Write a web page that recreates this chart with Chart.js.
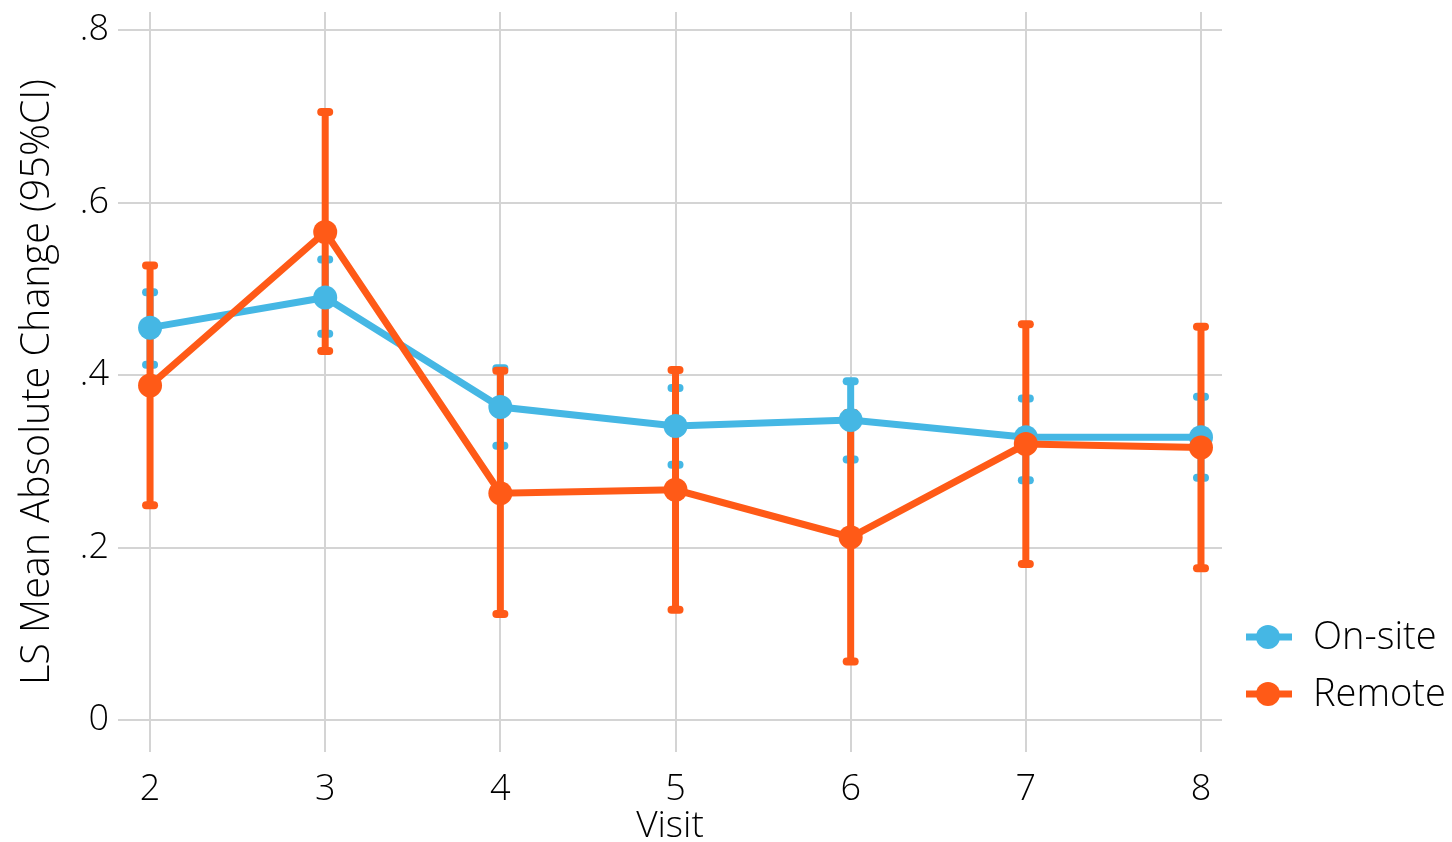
<!DOCTYPE html>
<html>
<head>
<meta charset="utf-8">
<script src="https://cdn.jsdelivr.net/npm/chart.js@4.4.0/dist/chart.umd.min.js"></script>
<style>
  html, body { margin: 0; padding: 0; background: #fff; }
</style>
</head>
<body>
<canvas id="chart" width="1452" height="842"></canvas>
<script>
// values
const visits = [2, 3, 4, 5, 6, 7, 8];
const onsiteMean = [0.455, 0.490, 0.363, 0.341, 0.348, 0.328, 0.328];
const onsiteLow  = [0.412, 0.448, 0.318, 0.296, 0.302, 0.278, 0.281];
const onsiteHigh = [0.496, 0.534, 0.408, 0.385, 0.393, 0.373, 0.375];
const remoteMean = [0.388, 0.566, 0.263, 0.267, 0.212, 0.320, 0.316];
const remoteLow  = [0.249, 0.428, 0.123, 0.128, 0.068, 0.181, 0.176];
const remoteHigh = [0.527, 0.705, 0.405, 0.406, 0.356, 0.459, 0.456];
const yTicks = [0, 0.2, 0.4, 0.6, 0.8];
const yTickLabels = ['0', '.2', '.4', '.6', '.8'];

const BLUE = '#45b7e4';
const ORANGE = '#ff5a17';
const FONT = "'Open Sans', 'Noto Sans', sans-serif";

const toPoints = (ys) => visits.map((v, i) => ({ x: v, y: ys[i] }));

// confidence intervals drawn under the lines
const ciPlugin = {
  id: 'ciBars',
  beforeDatasetsDraw(chart) {
    const { ctx, scales: { x, y } } = chart;
    const groups = [
      { low: onsiteLow, high: onsiteHigh, color: BLUE },
      { low: remoteLow, high: remoteHigh, color: ORANGE }
    ];
    ctx.save();
    groups.forEach(g => {
      ctx.strokeStyle = g.color;
      visits.forEach((v, i) => {
        const px = x.getPixelForValue(v);
        const yl = y.getPixelForValue(g.low[i]);
        const yh = y.getPixelForValue(g.high[i]);
        ctx.lineWidth = 7;
        ctx.lineCap = 'butt';
        ctx.beginPath();
        ctx.moveTo(px, yl);
        ctx.lineTo(px, yh);
        ctx.stroke();
        ctx.lineWidth = 8;
        ctx.lineCap = 'round';
        [yl, yh].forEach(yy => {
          ctx.beginPath();
          ctx.moveTo(px - 4, yy);
          ctx.lineTo(px + 4, yy);
          ctx.stroke();
        });
      });
    });
    ctx.restore();
  }
};

// legend at the lower right: line + marker + label
const legendPlugin = {
  id: 'sideLegend',
  afterDraw(chart) {
    const { ctx } = chart;
    const items = [chart.data.datasets[1], chart.data.datasets[0]];
    ctx.save();
    items.forEach((ds, i) => {
      const cy = 637 + i * 57;
      ctx.strokeStyle = ds.borderColor;
      ctx.lineWidth = 7;
      ctx.beginPath();
      ctx.moveTo(1246, cy);
      ctx.lineTo(1292, cy);
      ctx.stroke();
      ctx.fillStyle = ds.borderColor;
      ctx.beginPath();
      ctx.arc(1268, cy, 12, 0, Math.PI * 2);
      ctx.fill();
      ctx.fillStyle = '#000';
      ctx.font = "300 38px " + FONT;
      ctx.textBaseline = 'middle';
      ctx.textAlign = 'left';
      ctx.fillText(ds.label, 1313, cy + 1);
    });
    ctx.restore();
  }
};

new Chart(document.getElementById('chart').getContext('2d'), {
  type: 'line',
  data: {
    datasets: [
      {
        label: 'Remote',
        data: toPoints(remoteMean),
        borderColor: ORANGE,
        backgroundColor: ORANGE,
        borderWidth: 7,
        pointRadius: 12,
        pointBorderWidth: 0,
        tension: 0
      },
      {
        label: 'On-site',
        data: toPoints(onsiteMean),
        borderColor: BLUE,
        backgroundColor: BLUE,
        borderWidth: 7,
        pointRadius: 12,
        pointBorderWidth: 0,
        tension: 0
      }
    ]
  },
  options: {
    responsive: false,
    animation: false,
    devicePixelRatio: 1,
    layout: { padding: { top: 10, right: 230, left: 0, bottom: 0 } },
    plugins: {
      legend: { display: false },
      tooltip: { enabled: false }
    },
    scales: {
      x: {
        type: 'linear',
        min: 1.817,
        max: 8.12,
        afterBuildTicks: (scale) => { scale.ticks = visits.map(v => ({ value: v })); },
        afterFit: (scale) => { scale.height = 90; },
        grid: { color: '#d4d4d4', lineWidth: 2, drawTicks: false },
        border: { display: false },
        ticks: {
          padding: 16,
          color: '#000',
          font: { family: FONT, size: 36, weight: '300' }
        },
        title: {
          display: true,
          text: 'Visit',
          color: '#000',
          padding: { top: 0, bottom: 0 },
          font: { family: FONT, size: 37, weight: '300', lineHeight: 0.83 }
        }
      },
      y: {
        min: -0.037,
        max: 0.821,
        afterBuildTicks: (scale) => { scale.ticks = yTicks.map(v => ({ value: v })); },
        afterFit: (scale) => { scale.width = 118; scale.paddingTop = 0; scale.paddingBottom = 0; },
        grid: { color: '#d4d4d4', lineWidth: 2, drawTicks: false },
        border: { display: false },
        ticks: {
          padding: 9,
          color: '#000',
          callback: (v, i) => yTickLabels[i],
          font: { family: FONT, size: 36, weight: '300' }
        },
        title: {
          display: true,
          text: 'LS Mean Absolute Change (95%CI)',
          color: '#000',
          padding: { top: 18, bottom: 0 },
          font: { family: FONT, size: 39.5, weight: '300', lineHeight: 1 }
        }
      }
    }
  },
  plugins: [ciPlugin, legendPlugin]
});
</script>
</body>
</html>
